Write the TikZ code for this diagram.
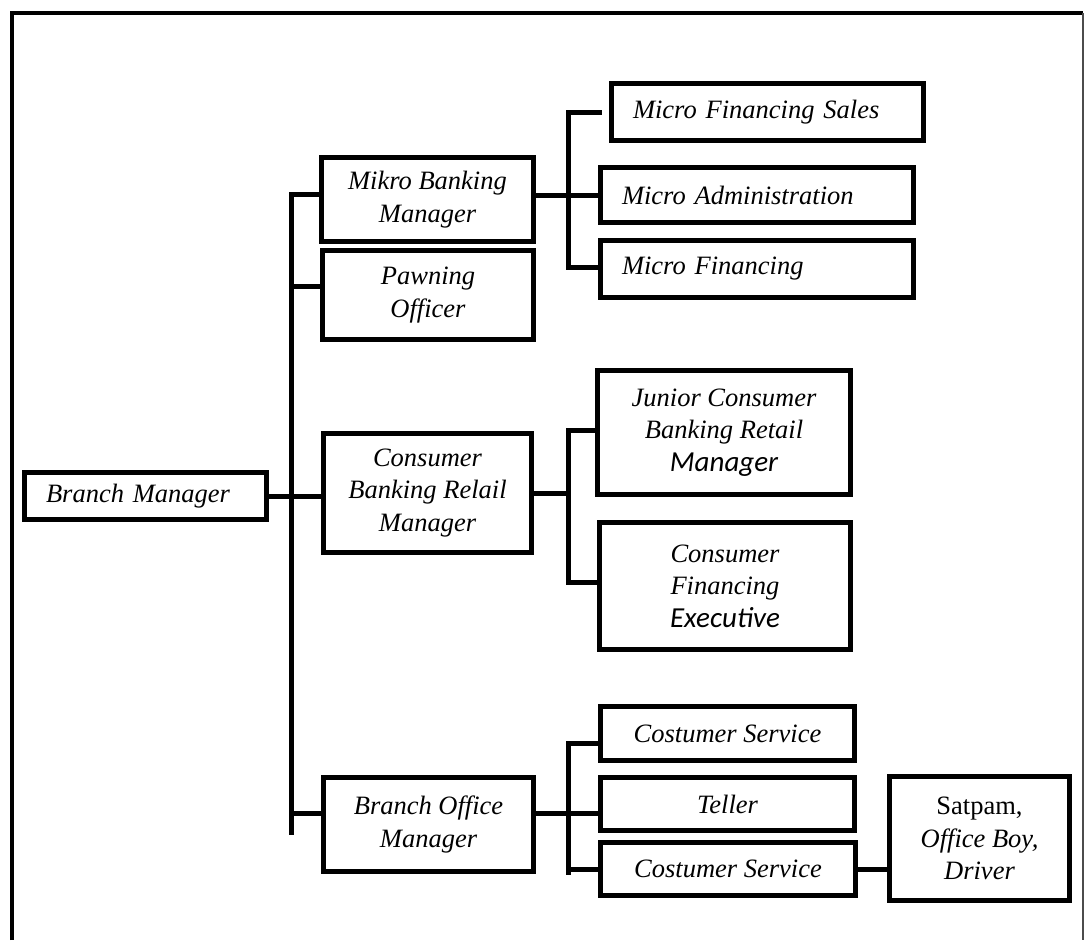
\documentclass[tikz,border=0pt]{standalone}
\usepackage{fontspec}
\setmainfont{Liberation Serif}
\newfontfamily\calibrifont{Carlito}
\usetikzlibrary{positioning,calc}
\newcommand\orgfont{\fontsize{26.5}{32.5}\selectfont\itshape}
\newcommand\calword[1]{{\calibrifont\fontsize{29}{32.5}\selectfont\itshape #1}}

\begin{document}
\begin{tikzpicture}[x=1pt, y=-1pt,
      orgbox/.style={draw, line width=5.5pt, inner sep=0pt, align=center,
      font=\orgfont}, leftbox/.style={orgbox, align=left},
      link/.style={line width=5pt, line cap=rect} ]
    \useasboundingbox (0,0) rectangle (1086,940);

    % Frame
    \draw[line width=4.5pt] (12,940) -- (12,13) -- (1083,13);
    \draw[line width=1.2pt, black!70] (1083,13) -- (1083,940);

    % Left column
    \node[leftbox, minimum width=242pt, minimum height=47pt, text width=199pt]
    (bm) at (145.5,496) {Branch Manager};

    % Managers
    \node[orgbox, minimum width=212pt, minimum height=84pt] (mbm) at
    (427.5,199.5) {Mikro Banking\\ Manager}; \node[orgbox, minimum width=211pt,
    minimum height=89pt] (pawn) at (428,295) {Pawning\\ Officer};
    \node[orgbox, minimum width=208pt, minimum height=119pt] (cbrm) at
    (427.5,493) {Consumer\\ Banking Relail\\ Manager}; \node[orgbox, minimum
    width=210pt, minimum height=94pt] (bom) at (428.5,824.5) {Branch Office\\
    Manager};

    % Micro staff
    \node[leftbox, minimum width=312pt, minimum height=57pt, text width=269pt]
    (mfs) at (767.5,112) {Micro Financing Sales}; \node[leftbox, minimum
    width=313pt, minimum height=55pt, text width=270pt] (ma) at (757,195)
    {Micro Administration}; \node[leftbox, minimum width=313pt, minimum
    height=57pt, text width=270pt] (mf) at (757,269) {Micro Financing};

    % Consumer staff
    \node[orgbox, minimum width=253pt, minimum height=124pt] (jcb) at
    (724,432.5) {Junior Consumer\\ Banking Retail\\ \calword{Manager}};
    \node[orgbox, minimum width=251pt, minimum height=127pt] (cfe) at (725,586)
    {Consumer\\ Financing\\ \calword{Executive}};

    % Branch office staff
    \node[orgbox, minimum width=254pt, minimum height=54pt] (cs1) at
    (727.5,733.5) {Costumer Service}; \node[orgbox, minimum width=254pt,
    minimum height=53pt] (tel) at (727.5,804) {Teller}; \node[orgbox, minimum
    width=255pt, minimum height=53pt] (cs2) at (728,869) {Costumer Service};
    \node[orgbox, minimum width=180pt, minimum height=124pt] (sat) at
    (979.5,838.5) {{\upshape Satpam,}\\ Office Boy,\\ Driver};

    % Main trunk
    \coordinate (trunk) at (291,194); \coordinate (trunkend) at (291,832);
    \coordinate (bomstub) at (291,813);
    \draw[link] (trunk) -- (trunkend); \draw[link] (trunk) -- (trunk -|
    mbm.west); \draw[link] (trunk |- 0,286) -- (pawn.west |- 0,286);
    \draw[link] (bm.east) -- (bm.east -| cbrm.west); \draw[link] (bomstub) --
    (bomstub -| bom.west);

    % Micro branch
    \coordinate (mtop) at (568,112); \coordinate (mbot) at (568,267);
    \draw[link] (mtop) -- (mbot); \draw[link] (mtop) -- ([xshift=-9pt]mfs.west
    |- mtop); \draw[link] (mbm.east |- ma.west) -- (ma.west); \draw[link]
    (mbot) -- (mbot -| mf.west);

    % Consumer branch
    \coordinate (ctop) at (568,430); \coordinate (cbot) at (568,582);
    \draw[link] (ctop) -- (cbot); \draw[link] (ctop) -- (ctop -| jcb.west);
    \draw[link] (cbot) -- (cbot -| cfe.west); \draw[link] (cbrm.east) --
    (cbrm.east -| ctop);

    % Branch office branch
    \coordinate (btop) at (568,743); \coordinate (bbot) at (568,872);
    \draw[link] (btop) -- (bbot); \draw[link] (btop) -- (btop -| cs1.west);
    \draw[link] ([yshift=11pt]bom.east) -- ([yshift=11pt]bom.east -|
    tel.west); \draw[link] (cs2.west -| btop) -- (cs2.west); \draw[link]
    (cs2.east) -- (cs2.east -| sat.west);

    \end{tikzpicture}
\end{document}
